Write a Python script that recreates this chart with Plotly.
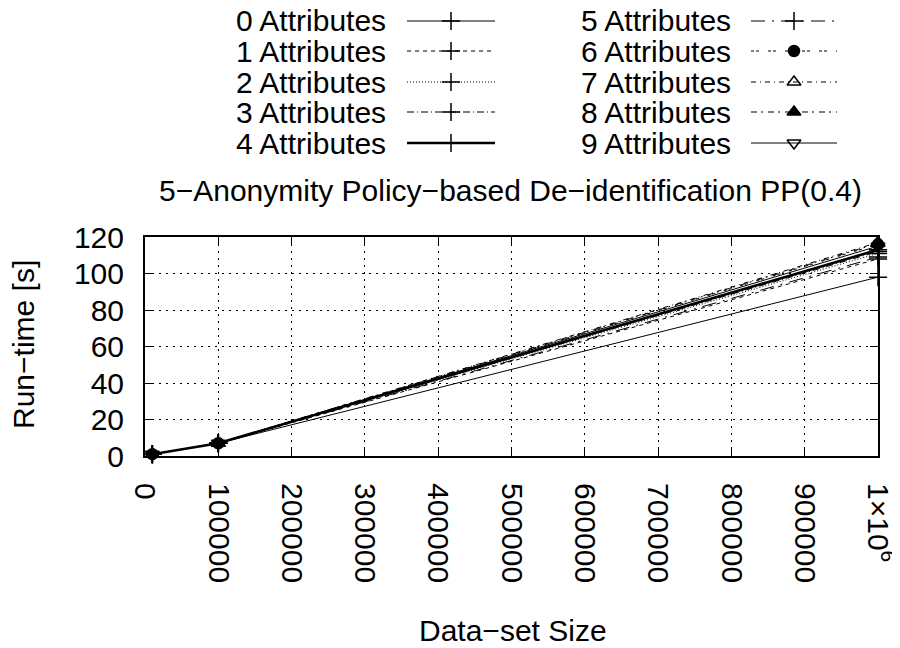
import plotly.graph_objects as go

# ---------------- data ----------------
sizes = [10000, 100000, 1000000]
series_names = [f"{i} Attributes" for i in range(10)]
attr0 = [1.0, 7.0, 98.0]
attr1 = [1.0, 7.0, 108.0]
attr2 = [1.0, 7.0, 111.0]
attr3 = [1.0, 7.0, 112.0]
attr4 = [1.0, 7.0, 113.0]
attr5 = [1.0, 7.0, 109.0]
attr6 = [1.0, 7.0, 116.0]
attr7 = [1.0, 7.0, 117.0]
attr8 = [1.0, 7.0, 116.5]
attr9 = [1.0, 7.0, 115.0]
all_series = [attr0, attr1, attr2, attr3, attr4, attr5, attr6, attr7, attr8, attr9]

x_tickvals = [0, 100000, 200000, 300000, 400000, 500000, 600000, 700000, 800000, 900000, 1000000]
x_ticktext = ["0", "100000", "200000", "300000", "400000", "500000", "600000",
              "700000", "800000", "900000", "1×10<sup>6</sup>"]
y_tickvals = [0, 20, 40, 60, 80, 100, 120]

title_text = "5\u2212Anonymity Policy\u2212based De\u2212identification PP(0.4)"
x_title = "Data\u2212set Size"
y_title = "Run\u2212time [s]"

# ---------------- styles ----------------
FONT = "Liberation Sans, Arial, sans-serif"
FS = 30
dashes = ["solid", "4px,4px", "1px,2px", "7px,3px,1px,3px", "solid",
          "14px,7px,2px,7px", "3px,2px,3px,9px", "5px,4px,1px,4px",
          "6px,4px,2px,5px", "solid"]
widths = [1, 1, 1, 1, 2.6, 1, 1, 1, 1, 1]
symbols = ["cross-thin", "cross-thin", "cross-thin", "cross-thin", "cross-thin",
           "cross-thin", "circle", "triangle-up-open", "triangle-up", "triangle-down-open"]
msizes = [13, 13, 13, 13, 13, 13, 11, 12, 12, 12]

# page body margin offset (the HTML page has an 8px body margin)
OFF = 8
W, H = 900, 648
# target plot area in screen pixels
SX0, SX1, SY0, SY1 = 145, 878, 237, 456
L = SX0 - OFF
R = W - (SX1 - OFF)
T = 2
B = H - (SY1 - OFF)
paper_w = W - L - R
paper_h = H - T - B
main_top = (SY1 - SY0) / paper_h
key_dom_lo = 0.55


def px_x(p):
    """screen px -> paper x"""
    return ((p - OFF) - L) / paper_w


def px_y(p):
    """screen px -> paper y"""
    return ((H - B) - (p - OFF)) / paper_h


# helper axis ranges: y2 in screen px
key_top_px = SY1 - 1.0 * paper_h
key_bottom_px = SY1 - key_dom_lo * paper_h

fig = go.Figure()

for i, (name, ys) in enumerate(zip(series_names, all_series)):
    fig.add_trace(go.Scatter(
        x=sizes, y=ys, mode="lines+markers", name=name, showlegend=False,
        line=dict(color="black", width=widths[i], dash=dashes[i]),
        marker=dict(symbol=symbols[i], size=msizes[i], color="black",
                    line=dict(color="black", width=1.5)),
        xaxis="x", yaxis="y", cliponaxis=False,
    ))

# ---------------- gnuplot-style key (helper axes in screen-pixel space) ----------------
row_y = [21, 51, 82, 112, 143]
cols = [dict(text_right=387, x0=407, x1=495), dict(text_right=732, x0=751, x1=837)]
annotations = []
for i, name in enumerate(series_names):
    c = cols[i // 5]
    ry = row_y[i % 5]
    xm = (c["x0"] + c["x1"]) / 2
    fig.add_trace(go.Scatter(
        x=[c["x0"], c["x1"]], y=[ry, ry], mode="lines", showlegend=False,
        line=dict(color="black", width=widths[i], dash=dashes[i]),
        xaxis="x2", yaxis="y2", hoverinfo="skip", cliponaxis=False))
    fig.add_trace(go.Scatter(
        x=[xm], y=[ry], mode="markers", showlegend=False,
        marker=dict(symbol=symbols[i], size=msizes[i], color="black",
                    line=dict(color="black", width=1.5)),
        xaxis="x2", yaxis="y2", hoverinfo="skip", cliponaxis=False))
    annotations.append(dict(
        text=name, x=px_x(c["text_right"]), y=px_y(ry), xref="paper", yref="paper",
        xanchor="right", yanchor="middle", showarrow=False, borderpad=0,
        font=dict(family=FONT, size=FS, color="black")))

annotations.append(dict(text=title_text, x=px_x(510), y=px_y(190), xref="paper", yref="paper",
                        xanchor="center", yanchor="middle", showarrow=False, borderpad=0,
                        font=dict(family=FONT, size=FS, color="black")))
annotations.append(dict(text=x_title, x=px_x(513), y=px_y(630), xref="paper", yref="paper",
                        xanchor="center", yanchor="middle", showarrow=False, borderpad=0,
                        font=dict(family=FONT, size=FS, color="black")))
annotations.append(dict(text=y_title, x=px_x(23), y=px_y(345), xref="paper", yref="paper",
                        xanchor="center", yanchor="middle", showarrow=False, borderpad=0,
                        textangle=-90,
                        font=dict(family=FONT, size=FS, color="black")))

axis_common = dict(
    showline=True, linewidth=2, linecolor="black", mirror="allticks",
    ticks="inside", ticklen=8, tickwidth=1, tickcolor="black",
    showgrid=True, gridcolor="black", gridwidth=1, griddash="2px,5px",
    zeroline=False, automargin=False,
    tickfont=dict(family=FONT, size=FS, color="black"),
)

fig.update_layout(
    template="none",
    width=W, height=H,
    margin=dict(l=L, r=R, t=T, b=B, autoexpand=False),
    paper_bgcolor="white", plot_bgcolor="rgba(0,0,0,0)",
    showlegend=False,
    xaxis=dict(domain=[0, 1], anchor="y", range=[0, 1000000],
               tickmode="array", tickvals=x_tickvals, ticktext=x_ticktext,
               tickangle=90, ticklabelstandoff=19, **axis_common),
    yaxis=dict(domain=[0, main_top], anchor="x", range=[0, 120],
               tickmode="array", tickvals=y_tickvals,
               ticklabelstandoff=13, **axis_common),
    xaxis2=dict(domain=[0, 1], anchor="y2", range=[SX0, SX1], visible=False,
                fixedrange=True, automargin=False),
    yaxis2=dict(domain=[key_dom_lo, 1], anchor="x2", range=[key_bottom_px, key_top_px],
                visible=False, fixedrange=True, automargin=False),
    annotations=annotations,
)

fig.write_html("out.html")
